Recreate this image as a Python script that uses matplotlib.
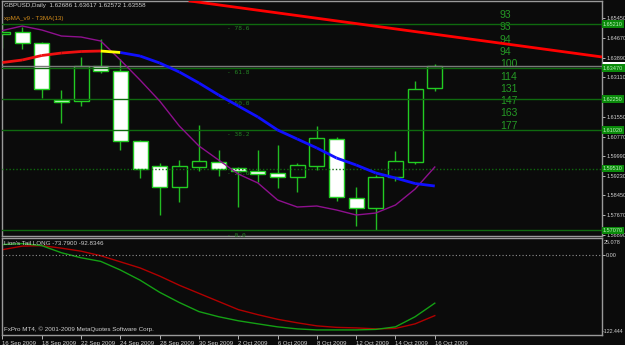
import matplotlib
matplotlib.use('Agg')
import matplotlib.pyplot as plt
import matplotlib.transforms as mtransforms
from matplotlib.patches import Rectangle
import numpy as np

# daily bars, GBPUSD
dates = ['16 Sep 2009', '17 Sep 2009', '18 Sep 2009', '21 Sep 2009', '22 Sep 2009', '23 Sep 2009',
         '24 Sep 2009', '25 Sep 2009', '28 Sep 2009', '29 Sep 2009', '30 Sep 2009', '1 Oct 2009',
         '2 Oct 2009', '5 Oct 2009', '6 Oct 2009', '7 Oct 2009', '8 Oct 2009', '9 Oct 2009',
         '12 Oct 2009', '13 Oct 2009', '14 Oct 2009', '15 Oct 2009', '16 Oct 2009']
opens = [1.64819, 1.64898, 1.64464, 1.62215, 1.62176, 1.63557, 1.63359, 1.60598, 1.59612, 1.58783,
         1.59572, 1.59770, 1.59533, 1.59414, 1.59336, 1.59178, 1.59612, 1.60677, 1.58350, 1.57955,
         1.59178, 1.59770, 1.62686]
highs = [1.65292, 1.65095, 1.64503, 1.62610, 1.63912, 1.64622, 1.63833, 1.60637, 1.59730, 1.59848,
         1.61229, 1.60243, 1.59572, 1.60243, 1.60440, 1.59730, 1.61190, 1.60756, 1.58783, 1.59257,
         1.60203, 1.62965, 1.63617]
lows = [1.64267, 1.64227, 1.62294, 1.61308, 1.61979, 1.63280, 1.60243, 1.59138, 1.57679, 1.58192,
        1.59414, 1.59217, 1.57994, 1.58981, 1.58744, 1.58586, 1.59454, 1.58231, 1.57245, 1.57087,
        1.59020, 1.59690, 1.62572]
closes = [1.64898, 1.64464, 1.62649, 1.62136, 1.63557, 1.63359, 1.60598, 1.59493, 1.58783, 1.59612,
          1.59809, 1.59493, 1.59414, 1.59296, 1.59178, 1.59651, 1.60717, 1.58389, 1.57955, 1.59178,
          1.59809, 1.62649, 1.63558]

# xpMA_v9 T3MA(13) and the thin purple average
t3ma = [1.63695, 1.63793, 1.63971, 1.64069, 1.64129, 1.64148, 1.64089, 1.63951, 1.63675, 1.63320,
        1.62886, 1.62413, 1.61979, 1.61545, 1.61032, 1.60677, 1.60322, 1.59927, 1.59651, 1.59336,
        1.59138, 1.58920, 1.58823]
purple_ma = [1.64957, 1.65134, 1.64977, 1.64740, 1.64700, 1.64543, 1.63793, 1.63004, 1.62176, 1.61190,
             1.60401, 1.59848, 1.59296, 1.58941, 1.58270, 1.57994, 1.58034, 1.57876, 1.57679, 1.57758,
             1.58073, 1.58704, 1.59572]

# fibonacci retracement
fib_names = ['0.0', '23.6', '38.2', '50.0', '61.8', '78.6']
fib_prices = [1.57070, 1.59510, 1.61020, 1.62250, 1.63470, 1.65210]

# trendline anchors (bar, price)
trend_p1 = (10, 1.66073)
trend_p2 = (30, 1.63967)

side_numbers = [93, 93, 94, 94, 100, 114, 131, 147, 163, 177]
price_ticks = [1.65450, 1.64670, 1.63890, 1.63110, 1.61550, 1.60770, 1.59990, 1.59230,
               1.58450, 1.57670, 1.56890]

# Lion's Tail LONG indicator
lt_green = [15.8, 17.3, 14.2, 3.3, -4.4, -9.9, -23.1, -38.6, -57.2, -72.8, -86.7, -94.5, -100.7,
            -105.4, -110.0, -113.1, -114.7, -114.7, -114.7, -113.9, -110.0, -94.5, -73.79]
lt_red = [8.0, 13.4, 14.2, 10.3, 5.7, -1.3, -10.6, -19.9, -32.4, -46.4, -58.8, -71.2, -83.6,
          -91.4, -98.4, -103.8, -108.5, -110.8, -111.6, -113.1, -112.4, -105.4, -92.83]
ind_top = 25.078
ind_bottom = -122.444

BG = '#0b0b0b'
FRAME = '#9a9a9a'
TXT = '#d0d0d0'
plt.rcParams['font.family'] = ['Liberation Sans', 'DejaVu Sans']

fig = plt.figure(figsize=(6.25, 3.45), dpi=100, facecolor=BG)
ax = fig.add_axes([0.0032, 0.3159, 0.96, 0.6812], facecolor=BG)
axi = fig.add_axes([0.0032, 0.029, 0.96, 0.2797], facecolor=BG)

x = np.arange(len(dates))
o = np.array(opens)
c = np.array(closes)
bull = c >= o

# candles
ax.vlines(x, lows, highs, color='#22bb22', lw=1, zorder=2)
ax.bar(x, np.abs(c - o), bottom=np.minimum(o, c), width=0.76,
       color=[BG if b else 'white' for b in bull], edgecolor='#22cc22', lw=1, zorder=3)

# fib levels
for lev, name in zip(fib_prices, fib_names):
    ax.axhline(lev, color='#0f6a0f', lw=1, ls=(0, (1, 1.5)) if name == '23.6' else '-', zorder=4)
    ax.annotate('- ' + name, (11.45, lev), xytext=(0, -1.5), textcoords='offset points',
                va='top', ha='left', fontsize=4.5, color='#228022', family='DejaVu Sans Mono')

# bid line
ax.axhline(closes[-1], color='#7a7a7a', lw=1, zorder=4)

# moving averages
ax.plot(x, purple_ma, color='#8e108e', lw=1, zorder=5)
d = np.diff(t3ma)
for k in range(len(d)):
    if d[k] > 0:
        col = '#ee1010'
    elif k > 0 and d[k - 1] > 0:
        col = '#ffff00'
    else:
        col = '#1010ff'
    ax.plot(x[k:k + 2], t3ma[k:k + 2], color=col, lw=2, zorder=6, solid_capstyle='butt')

# trendline
ax.axline(trend_p1, trend_p2, color='#ff0000', lw=2, zorder=6)

ax.set_xlim(-0.025, 30.51)
ax.set_ylim(1.56850, 1.66121)
ax.set_xticks([])
ax.yaxis.tick_right()
ax.set_yticks(price_ticks)
ax.set_yticklabels([f'{p:.5f}' for p in price_ticks])
ax.tick_params(axis='y', colors=TXT, labelsize=4.0, length=2, width=0.6, pad=1)
for s in ax.spines.values():
    s.set_color(FRAME)
    s.set_linewidth(1)

trans = mtransforms.blended_transform_factory(ax.transAxes, ax.transData)
# bid marker, mostly hidden under the 61.8 price box
ax.add_patch(Rectangle((1.0015, closes[-1] - 0.0015), 0.04, 0.003, transform=trans,
                       fc='white', ec='none', clip_on=False, zorder=9))
for lev in fib_prices:
    ax.text(1.0015, lev, f'{lev:.5f}', transform=trans, fontsize=4.0, color='#b8f0b8',
            va='center', ha='left', clip_on=False, zorder=11,
            bbox=dict(boxstyle='square,pad=0.25', fc='#0a8a0a', ec='none'))

# header texts
ax.text(0.003, 0.992, 'GBPUSD,Daily  1.62686 1.63617 1.62572 1.63558', transform=ax.transAxes,
        va='top', ha='left', fontsize=4.5, color=TXT)
ax.text(0.004, 0.935, 'xpMA_v9 - T3MA(13)', transform=ax.transAxes,
        va='top', ha='left', fontsize=4.5, color='#d08a1a')

for i, n in enumerate(side_numbers):
    ax.text(0.83, 0.940 - i * 0.0523, str(n), transform=ax.transAxes, va='center', ha='left',
            fontsize=7.5, color='#259925')

# indicator window
axi.plot(x, lt_red, color='#b00000', lw=1)
axi.plot(x, lt_green, color='#14a014', lw=1)
axi.axhline(0, color='#909090', lw=0.8, ls=(0, (1, 2)))
axi.set_xlim(-0.025, 30.51)
axi.set_ylim(ind_bottom, ind_top)
axi.yaxis.tick_right()
axi.set_yticks([0])
axi.set_yticklabels(['0.00'])
axi.tick_params(axis='y', colors=TXT, labelsize=4.0, length=2, width=0.6, pad=1)
axi.set_xticks(x[::2])
axi.set_xticklabels(dates[::2], ha='left')
axi.tick_params(axis='x', colors=TXT, labelsize=4.3, length=3, width=0.6, pad=1)
for s in axi.spines.values():
    s.set_color(FRAME)
    s.set_linewidth(1)
axi.text(1.003, 0.985, f'{ind_top:.3f}', transform=axi.transAxes, va='top', ha='left',
         fontsize=4.0, color=TXT)
axi.text(1.0005, 0.015, f'{ind_bottom:.3f}', transform=axi.transAxes, va='bottom', ha='left',
         fontsize=3.8, color=TXT)
axi.text(0.003, 0.975, "Lion's Tail LONG -73.7900 -92.8346", transform=axi.transAxes,
         va='top', ha='left', fontsize=4.5, color=TXT)
axi.text(0.003, 0.03, 'FxPro MT4, © 2001-2009 MetaQuotes Software Corp.', transform=axi.transAxes,
         va='bottom', ha='left', fontsize=4.5, color=TXT)

plt.savefig('out.png', dpi=100, facecolor=BG)
